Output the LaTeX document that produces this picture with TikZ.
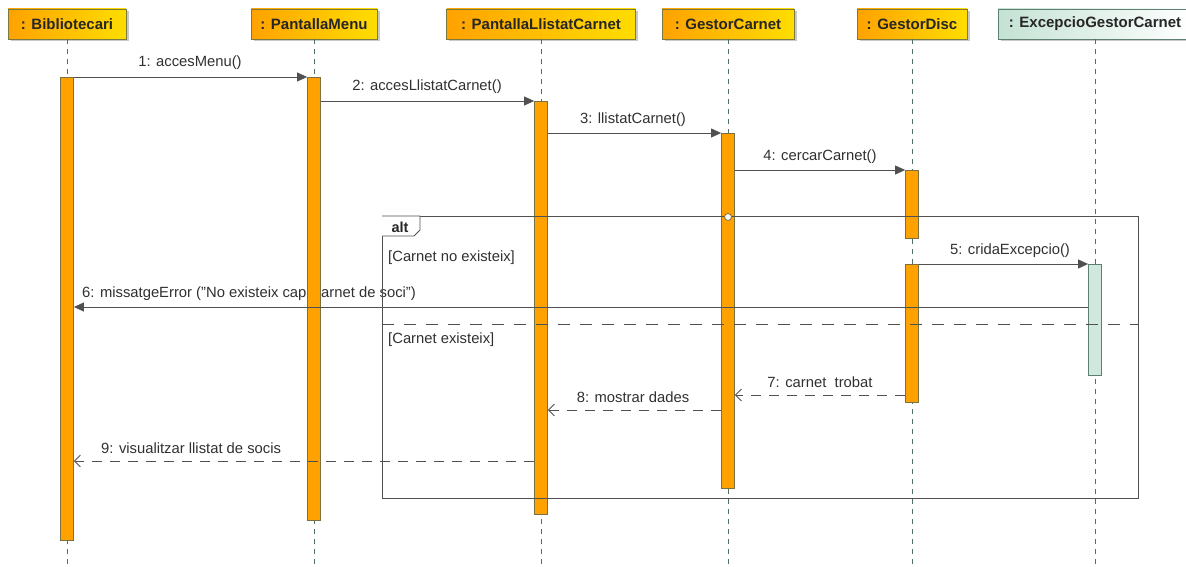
\documentclass[tikz,border=0pt]{standalone}
\usepackage{fontspec}
\setmainfont{Liberation Sans}
\usetikzlibrary{shadows,arrows.meta}
\definecolor{lineC}{HTML}{505050}
\definecolor{txtC}{HTML}{303030}
\definecolor{orgA}{HTML}{FFA200}
\definecolor{orgB}{HTML}{FFDD00}
\definecolor{hdrC}{HTML}{7A7A40}
\definecolor{actB}{HTML}{7A7040}
\definecolor{lifeC}{HTML}{4F6F60}
\definecolor{excA}{HTML}{C4E2D4}
\definecolor{excB}{HTML}{5F8070}
\tikzset{
  head/.style={draw=hdrC, line width=0.8pt, minimum height=30pt, inner sep=0pt,
    left color=orgA, right color=orgB, text=black!85,
    font=\bfseries\fontsize{15}{17}\selectfont,
    drop shadow={shadow xshift=2.5pt, shadow yshift=-2.5pt, fill=black!30, opacity=0.7}},
  exhead/.style={head, left color=excA, right color=white, draw=excB},
  life/.style={draw=lifeC, line width=0.7pt, dash pattern=on 5pt off 5pt},
  act/.style={draw=actB, line width=0.8pt, fill=orgA, minimum width=13pt, inner sep=0pt, anchor=north},
  exact/.style={act, fill=excA!80, draw=excB},
  sync/.style={draw=lineC, line width=0.8pt, -{Triangle[length=10pt,width=9pt]}},
  ret/.style={draw=lineC, line width=0.8pt, dash pattern=on 10pt off 8pt, -{Straight Barb[length=6pt,width=12pt,line width=0.8pt]}},
  lbl/.style={text=txtC, font=\fontsize{14.8}{17}\selectfont, inner sep=0pt},
  frm/.style={draw=lineC, line width=0.8pt, inner sep=0pt},
}
\begin{document}
\begin{tikzpicture}[x=1pt,y=-1pt]
\useasboundingbox (0,0) rectangle (1186,567);
% headers
\node[head, minimum width=118pt] (h1) at (67,24) {: Bibliotecari};
\node[head, minimum width=126pt] (h2) at (314,24) {: PantallaMenu};
\node[head, minimum width=189pt] (h3) at (541,24) {: PantallaLlistatCarnet};
\node[head, minimum width=132pt] (h4) at (728,24) {: GestorCarnet};
\node[head, minimum width=110pt] (h5) at (912,24) {: GestorDisc};
\node[exhead, minimum width=194pt] (h6) at (1095,24) {: ExcepcioGestorCarnet};
% lifelines
\foreach \h in {h1,h2,h3,h4,h5,h6}
  \draw[life] (\h.south) -- (\h.south |- 0,567);
% labels
\node[lbl] (l1) at (190,63) {1: accesMenu()};
\node[lbl] (l2) at (427,87) {2: accesLlistatCarnet()};
\node[lbl] (l3) at (633,120) {3: llistatCarnet()};
\node[lbl] (l4) at (820,157) {4: cercarCarnet()};
\node[lbl] (l5) at (1010,251) {5: cridaExcepcio()};
\node[lbl, anchor=west] (l6) at (82,294) {6: missatgeError ("No existeix cap Carnet de soci")};
\node[lbl] (l7) at (820,382) {7: carnet\ \ trobat};
\node[lbl] (l8) at (633,397) {8: mostrar dades};
\node[lbl, anchor=west] (l9) at (101,448) {9: visualitzar llistat de socis};
\node[lbl, anchor=west] (g1) at (388,258) {[Carnet no existeix]};
\node[lbl, anchor=west] (g2) at (388,340) {[Carnet existeix]};
% activation bars
\node[act, minimum height=463pt] (a1) at (h1.south |- 0,77) {};
\node[act, minimum height=443pt] (a2) at (h2.south |- 0,77) {};
\node[act, minimum height=413pt] (a3) at (h3.south |- 0,101) {};
\node[act, minimum height=355pt] (a4) at (h4.south |- 0,133) {};
\node[act, minimum height=68pt] (a5) at (h5.south |- 0,170) {};
\node[act, minimum height=138pt] (a5b) at (h5.south |- 0,264) {};
\node[exact, minimum height=111pt] (a6) at (h6.south |- 0,264) {};
% alt frame
\node[frm, minimum width=756pt, minimum height=282pt, anchor=north west] (alt) at (382,216) {};
\draw[frm, fill=white] (alt.north west) -- (420,216) -- (420,230) -- (414,236) -- (382,236);
\node[font=\bfseries\fontsize{14.5}{16}\selectfont, text=black!85, inner sep=0pt] (altl) at (400,227) {alt};
\draw[draw=lineC, line width=0.8pt, dash pattern=on 12pt off 10pt] (alt.west |- 0,324) -- (alt.east |- 0,324);
\draw[draw=actB, line width=0.8pt, fill=white] (a4.north |- 0,217) circle (3.5pt);
% messages
\draw[sync] (a1.east |- 0,77) -- (a2.west |- 0,77);
\draw[sync] (a2.east |- 0,101) -- (a3.west |- 0,101);
\draw[sync] (a3.east |- 0,133) -- (a4.west |- 0,133);
\draw[sync] (a4.east |- 0,170) -- (a5.west |- 0,170);
\draw[sync] (a5b.east |- 0,264) -- (a6.west |- 0,264);
\draw[sync] (a6.west |- 0,307) -- (a1.east |- 0,307);
\draw[ret] (a5b.west |- 0,395) -- (a4.east |- 0,395);
\draw[ret] (a4.west |- 0,410) -- (a3.east |- 0,410);
\draw[ret] (a3.west |- 0,461) -- (a1.east |- 0,461);
\end{tikzpicture}
\end{document}
